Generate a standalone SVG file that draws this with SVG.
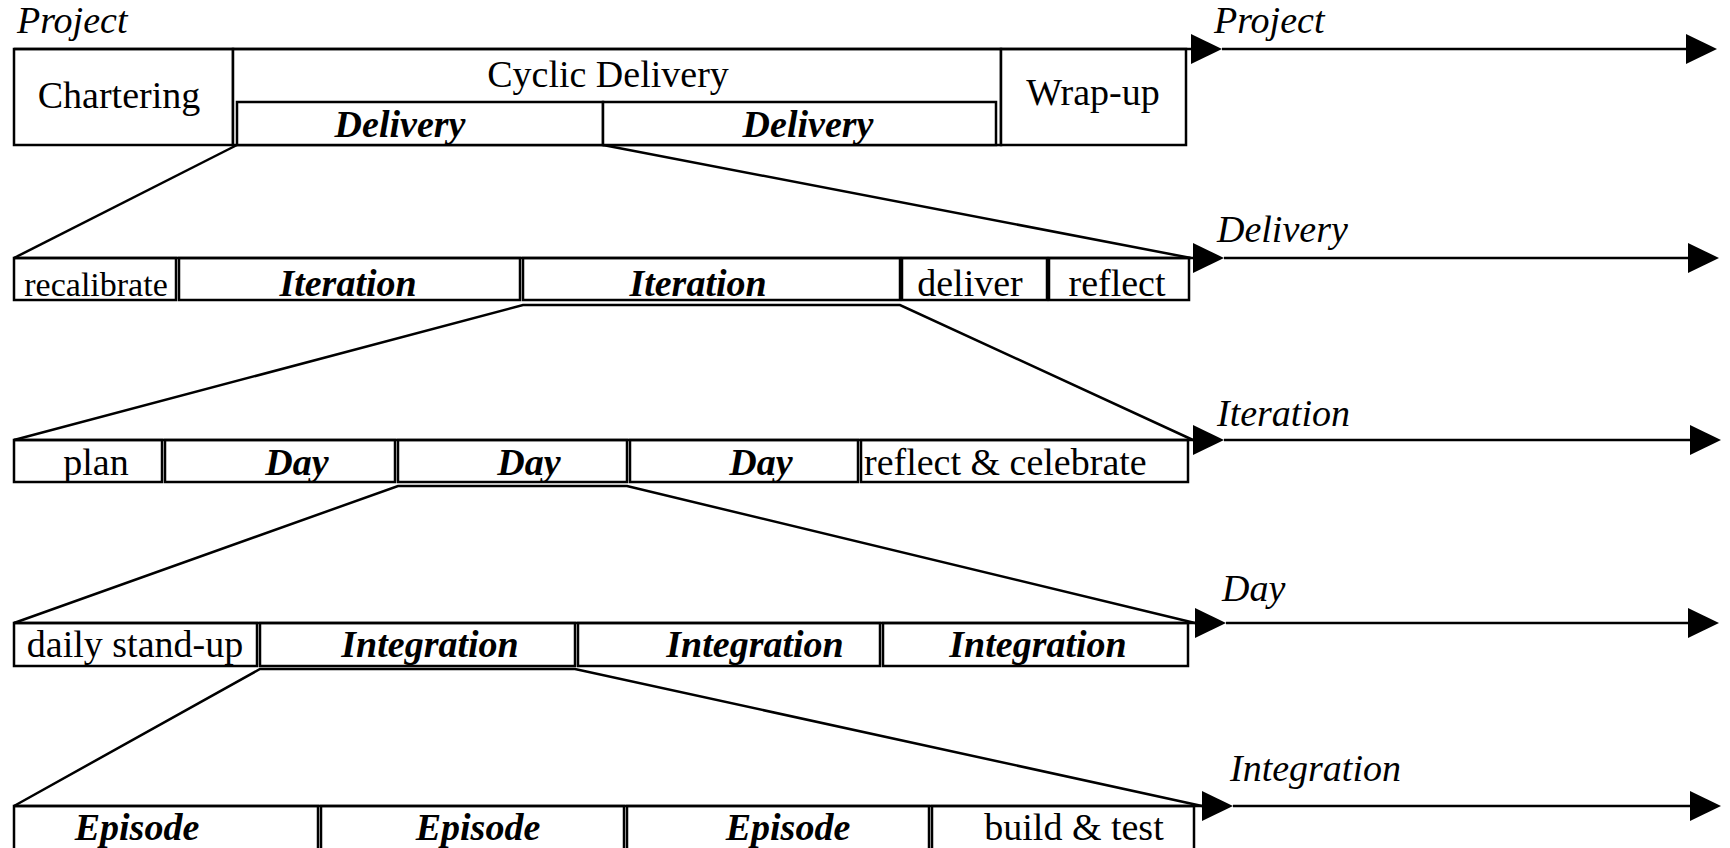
<svg xmlns="http://www.w3.org/2000/svg" width="1730" height="848" viewBox="0 0 1730 848">
<style>
rect{fill:#fff;stroke:#000;stroke-width:2.5}
.ln{fill:none;stroke:#000;stroke-width:2.5}
text{font-family:"Liberation Serif","Times New Roman",serif;font-size:38px;fill:#000}
.c{text-anchor:middle}
.i{font-style:italic}
.bi{font-style:italic;font-weight:bold}
</style>
<defs>
<marker id="ah" markerUnits="userSpaceOnUse" markerWidth="31" markerHeight="30" refX="0" refY="15" orient="auto" viewBox="0 0 31 30">
<path d="M0,0 L31,15 L0,30 z" fill="#000"/>
</marker>
</defs>
<rect x="0" y="0" width="1730" height="848" style="stroke:none"/>
<g id="row1">
<g id="chartering"><rect x="14" y="49" width="219" height="96"/><text class="c" x="119" y="108">Chartering</text></g>
<g id="cyclic"><rect x="233" y="49" width="768" height="96"/><text class="c" x="608" y="87">Cyclic Delivery</text></g>
<g id="delivery1"><rect x="237" y="102" width="366" height="43"/><text class="c bi" x="400" y="137">Delivery</text></g>
<g id="delivery2"><rect x="603" y="102" width="393" height="43"/><text class="c bi" x="808" y="137">Delivery</text></g>
<g id="wrapup"><rect x="1001" y="49" width="185" height="96"/><text class="c" x="1093" y="105">Wrap-up</text></g>
</g>
<g id="row2">
<g id="recalibrate"><rect x="14" y="258" width="162" height="42"/><text class="c" x="96" y="296" style="font-size:34px">recalibrate</text></g>
<g id="iteration1"><rect x="179" y="258" width="341" height="42"/><text class="c bi" x="348" y="296">Iteration</text></g>
<g id="iteration2"><rect x="523" y="258" width="377" height="42"/><text class="c bi" x="698" y="296">Iteration</text></g>
<g id="deliver"><rect x="902" y="258" width="145" height="42"/><text class="c" x="970" y="296">deliver</text></g>
<g id="reflect"><rect x="1049" y="258" width="140" height="42"/><text class="c" x="1117" y="296">reflect</text></g>
</g>
<g id="row3">
<g id="plan"><rect x="14" y="440" width="148" height="42"/><text class="c" x="96" y="475">plan</text></g>
<g id="day1"><rect x="165" y="440" width="230" height="42"/><text class="c bi" x="297" y="475">Day</text></g>
<g id="day2"><rect x="398" y="440" width="229" height="42"/><text class="c bi" x="529" y="475">Day</text></g>
<g id="day3"><rect x="630" y="440" width="228" height="42"/><text class="c bi" x="761" y="475">Day</text></g>
<g id="reflectcelebrate"><rect x="861" y="440" width="327" height="42"/><text x="864" y="475">reflect &amp; celebrate</text></g>
</g>
<g id="row4">
<g id="standup"><rect x="14" y="623" width="243" height="43"/><text class="c" x="135" y="657">daily stand-up</text></g>
<g id="integration1"><rect x="260" y="623" width="315" height="43"/><text class="c bi" x="430" y="657">Integration</text></g>
<g id="integration2"><rect x="578" y="623" width="302" height="43"/><text class="c bi" x="755" y="657">Integration</text></g>
<g id="integration3"><rect x="883" y="623" width="305" height="43"/><text class="c bi" x="1038" y="657">Integration</text></g>
</g>
<g id="row5">
<g id="episode1"><rect x="14" y="806" width="304" height="60"/><text class="c bi" x="137" y="840">Episode</text></g>
<g id="episode2"><rect x="321" y="806" width="303" height="60"/><text class="c bi" x="478" y="840">Episode</text></g>
<g id="episode3"><rect x="627" y="806" width="302" height="60"/><text class="c bi" x="788" y="840">Episode</text></g>
<g id="buildtest"><rect x="932" y="806" width="262" height="60"/><text class="c" x="1074" y="840">build &amp; test</text></g>
</g>
<g id="labels">
<text class="i" x="17" y="33">Project</text>
<text class="i" x="1214" y="33">Project</text>
<text class="i" x="1217" y="242">Delivery</text>
<text class="i" x="1217" y="426">Iteration</text>
<text class="i" x="1222" y="601">Day</text>
<text class="i" x="1230" y="781">Integration</text>
</g>
<g id="connectors">
<path class="ln" d="M14,49 H1191" marker-end="url(#ah)"/>
<path class="ln" d="M1222,49 H1686" marker-end="url(#ah)"/>
<path class="ln" d="M14,258 H1193" marker-end="url(#ah)"/>
<path class="ln" d="M1224,258 H1688" marker-end="url(#ah)"/>
<path class="ln" d="M14,440 H1193" marker-end="url(#ah)"/>
<path class="ln" d="M1224,440 H1690" marker-end="url(#ah)"/>
<path class="ln" d="M14,623 H1195" marker-end="url(#ah)"/>
<path class="ln" d="M1226,623 H1688" marker-end="url(#ah)"/>
<path class="ln" d="M14,806 H1202" marker-end="url(#ah)"/>
<path class="ln" d="M1233,806 H1690" marker-end="url(#ah)"/>
<path class="ln" d="M237,145 L14,258"/>
<path class="ln" d="M603,145 L1191,258"/>
<path class="ln" d="M14,440 L523,305 H900 L1193,440"/>
<path class="ln" d="M14,623 L398,486 H627 L1195,623"/>
<path class="ln" d="M14,806 L260,669 H575 L1202,806"/>
</g>
</svg>
